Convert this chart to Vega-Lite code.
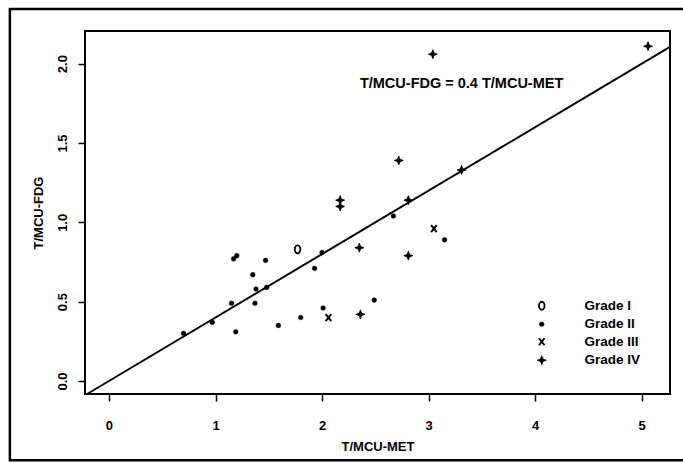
{
  "$schema": "https://vega.github.io/schema/vega-lite/v6.json",
  "width": 585,
  "height": 363,
  "autosize": "none",
  "padding": {"left": 85, "top": 31, "right": 13, "bottom": 69},
  "background": "white",
  "config": {
    "view": {"stroke": "black", "strokeWidth": 2},
    "font": "Liberation Sans",
    "axis": {"domain": false, "grid": false, "tickColor": "black", "tickWidth": 1.5, "tickSize": 7,
      "labelFont": "Liberation Sans", "labelFontWeight": "bold", "labelFontSize": 13, "labelColor": "black",
      "titleFont": "Liberation Sans", "titleFontWeight": "bold", "titleFontSize": 13, "titleColor": "black"}
  },
  "datasets": {
    "points": [
      {"met": 1.77, "fdg": 0.83, "grade": "Grade I"},
      {"met": 0.70, "fdg": 0.30, "grade": "Grade II"},
      {"met": 0.97, "fdg": 0.37, "grade": "Grade II"},
      {"met": 1.15, "fdg": 0.49, "grade": "Grade II"},
      {"met": 1.19, "fdg": 0.31, "grade": "Grade II"},
      {"met": 1.17, "fdg": 0.77, "grade": "Grade II"},
      {"met": 1.20, "fdg": 0.79, "grade": "Grade II"},
      {"met": 1.35, "fdg": 0.67, "grade": "Grade II"},
      {"met": 1.38, "fdg": 0.58, "grade": "Grade II"},
      {"met": 1.37, "fdg": 0.49, "grade": "Grade II"},
      {"met": 1.47, "fdg": 0.76, "grade": "Grade II"},
      {"met": 1.48, "fdg": 0.59, "grade": "Grade II"},
      {"met": 1.59, "fdg": 0.35, "grade": "Grade II"},
      {"met": 1.80, "fdg": 0.40, "grade": "Grade II"},
      {"met": 1.93, "fdg": 0.71, "grade": "Grade II"},
      {"met": 2.00, "fdg": 0.81, "grade": "Grade II"},
      {"met": 2.01, "fdg": 0.46, "grade": "Grade II"},
      {"met": 2.49, "fdg": 0.51, "grade": "Grade II"},
      {"met": 2.67, "fdg": 1.04, "grade": "Grade II"},
      {"met": 3.15, "fdg": 0.89, "grade": "Grade II"},
      {"met": 2.06, "fdg": 0.40, "grade": "Grade III"},
      {"met": 3.05, "fdg": 0.96, "grade": "Grade III"},
      {"met": 3.04, "fdg": 2.06, "grade": "Grade IV"},
      {"met": 5.06, "fdg": 2.11, "grade": "Grade IV"},
      {"met": 2.72, "fdg": 1.39, "grade": "Grade IV"},
      {"met": 3.31, "fdg": 1.33, "grade": "Grade IV"},
      {"met": 2.17, "fdg": 1.14, "grade": "Grade IV"},
      {"met": 2.17, "fdg": 1.10, "grade": "Grade IV"},
      {"met": 2.81, "fdg": 1.14, "grade": "Grade IV"},
      {"met": 2.35, "fdg": 0.84, "grade": "Grade IV"},
      {"met": 2.81, "fdg": 0.79, "grade": "Grade IV"},
      {"met": 2.36, "fdg": 0.42, "grade": "Grade IV"}
    ],
    "fit": [
      {"met": -0.205, "fdg": -0.082},
      {"met": 5.266, "fdg": 2.106}
    ],
    "note": [
      {"met": 3.31, "fdg": 1.87, "label": "T/MCU-FDG = 0.4 T/MCU-MET"}
    ],
    "frame": [
      {"id": "figure"}
    ]
  },
  "layer": [
    {
      "data": {"name": "points"},
      "mark": {"type": "point", "stroke": "black", "opacity": 1, "filled": false},
      "encoding": {
        "x": {"field": "met", "type": "quantitative",
          "scale": {"domain": [-0.225, 5.266], "nice": false, "zero": false},
          "axis": {"values": [0, 1, 2, 3, 4, 5], "format": "d", "title": "T/MCU-MET", "labelPadding": 18, "titlePadding": 8}},
        "y": {"field": "fdg", "type": "quantitative",
          "scale": {"domain": [-0.082, 2.206], "nice": false, "zero": false},
          "axis": {"values": [0, 0.5, 1, 1.5, 2], "format": ".1f", "title": "T/MCU-FDG",
            "labelAngle": -90, "labelAlign": "center", "labelBaseline": "bottom", "labelPadding": 9, "titlePadding": 11}},
        "shape": {"field": "grade", "type": "nominal",
          "scale": {"domain": ["Grade I", "Grade II", "Grade III", "Grade IV"],
            "range": ["M0,-1A0.7,1 0 1,1 0,1A0.7,1 0 1,1 0,-1Z", "circle", "M-0.8,-1L0.8,1M0.8,-1L-0.8,1", "M0,-1L0.28,-0.28L1,0L0.28,0.28L0,1L-0.28,0.28L-1,0L-0.28,-0.28Z"]},
          "legend": {"title": null, "orient": "none", "legendX": 450, "legendY": 268, "padding": 0,
            "labelFont": "Liberation Sans", "labelFontWeight": "bold", "labelFontSize": 13.5, "labelColor": "black",
            "labelOffset": 36, "rowPadding": 2.5, "symbolStrokeColor": "black"}},
        "fill": {"field": "grade", "type": "nominal",
          "scale": {"domain": ["Grade I", "Grade II", "Grade III", "Grade IV"], "range": ["transparent", "black", "transparent", "black"]}},
        "strokeWidth": {"field": "grade", "type": "nominal",
          "scale": {"type": "ordinal", "domain": ["Grade I", "Grade II", "Grade III", "Grade IV"], "range": [1.8, 0.5, 2, 0.8]}},
        "size": {"field": "grade", "type": "nominal",
          "scale": {"type": "ordinal", "domain": ["Grade I", "Grade II", "Grade III", "Grade IV"], "range": [64, 22, 49, 81]}}
      }
    },
    {
      "data": {"name": "fit"},
      "mark": {"type": "line", "color": "black", "strokeWidth": 2},
      "encoding": {
        "x": {"field": "met", "type": "quantitative"},
        "y": {"field": "fdg", "type": "quantitative"}
      }
    },
    {
      "data": {"name": "note"},
      "mark": {"type": "text", "font": "Liberation Sans", "fontWeight": "bold", "fontSize": 14.5, "color": "black"},
      "encoding": {
        "x": {"field": "met", "type": "quantitative"},
        "y": {"field": "fdg", "type": "quantitative"},
        "text": {"field": "label"}
      }
    },
    {
      "data": {"name": "frame"},
      "mark": {"type": "rect", "fill": "white", "fillOpacity": 0, "stroke": "black", "strokeWidth": 2.5},
      "encoding": {
        "x": {"datum": -0.93, "type": "quantitative"},
        "x2": {"datum": 6.5},
        "y": {"datum": 2.345, "type": "quantitative"},
        "y2": {"datum": -0.50}
      }
    }
  ]
}
